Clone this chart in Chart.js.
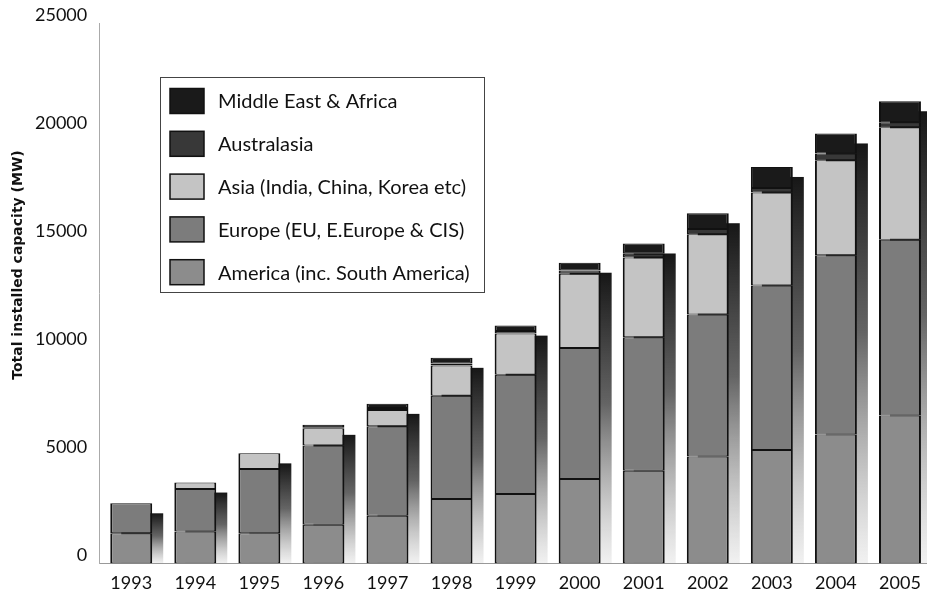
<!DOCTYPE html>
<html>
<head>
<meta charset="utf-8">
<script src="https://cdn.jsdelivr.net/npm/chart.js@4.4.1/dist/chart.umd.min.js"></script>
<style>
  html, body { margin: 0; padding: 0; background: #fff; overflow: hidden; }
  #wrap { width: 932px; height: 594px; }
</style>
</head>
<body>
<div id="wrap"><canvas id="windChart" width="932" height="594"></canvas></div>
<script>
// values (MW)
const YEARS = ['1993', '1994', '1995', '1996', '1997', '1998', '1999', '2000', '2001', '2002', '2003', '2004', '2005'];
const AMERICA = [1400, 1480, 1390, 1790, 2210, 2980, 3210, 3910, 4290, 4940, 5250, 5960, 6840];
const EUROPE = [1380, 1960, 2980, 3660, 4130, 4780, 5520, 6050, 6170, 6570, 7610, 8290, 8130];
const ASIA = [0, 300, 720, 800, 760, 1390, 1910, 3440, 3690, 3720, 4300, 4400, 5210];
const AUSTRALASIA = [0, 0, 0, 50, 90, 100, 110, 150, 180, 240, 210, 310, 230];
const MIDDLE_EAST_AFRICA = [0, 0, 0, 110, 190, 260, 250, 360, 470, 730, 970, 930, 970];
const Y_TICKS = [0, 5000, 10000, 15000, 20000, 25000];
const Y_TITLE = 'Total installed capacity (MW)';

const FONT = 'Lato, "Open Sans", sans-serif';

// shadow behind each stacked column, fading downward
const barShadow = {
  id: 'barShadow',
  beforeDatasetsDraw(chart) {
    const ctx = chart.ctx;
    const n = chart.data.labels.length;
    ctx.save();
    for (let j = 0; j < n; j++) {
      let top = Infinity, base = -Infinity, left = 0, right = 0;
      chart.data.datasets.forEach((ds, i) => {
        const el = chart.getDatasetMeta(i).data[j];
        top = Math.min(top, el.y, el.base);
        base = Math.max(base, el.base, el.y);
        left = el.x - el.width / 2;
        right = el.x + el.width / 2;
      });
      const dx = 11, dy = 10;
      const g = ctx.createLinearGradient(0, top + dy, 0, base);
      g.addColorStop(0, 'rgba(10,10,10,0.95)');
      g.addColorStop(0.45, 'rgba(40,40,40,0.72)');
      g.addColorStop(1, 'rgba(120,120,120,0.1)');
      ctx.fillStyle = g;
      ctx.fillRect(left + dx, top + dy, right - left, base - top - dy);
    }
    ctx.restore();
  }
};

// boxed legend in the upper left of the plot + rotated axis title
const boxLegend = {
  id: 'boxLegend',
  afterDraw(chart) {
    const ctx = chart.ctx;
    ctx.save();
    ctx.fillStyle = '#fff';
    ctx.fillRect(160, 77, 324, 215);
    ctx.strokeStyle = '#444';
    ctx.lineWidth = 1;
    ctx.strokeRect(160.5, 77.5, 324, 215);
    const items = chart.data.datasets.slice().reverse();
    items.forEach((d, k) => {
      const cy = 101 + k * 42.8;
      ctx.fillStyle = d.backgroundColor;
      ctx.fillRect(170, cy - 12.5, 34, 25);
      ctx.strokeStyle = '#111';
      ctx.lineWidth = 1.5;
      ctx.strokeRect(170, cy - 12.5, 34, 25);
      ctx.fillStyle = '#111';
      ctx.font = '20px ' + FONT;
      ctx.textBaseline = 'middle';
      ctx.fillText(d.label, 218, cy + 1);
    });

    ctx.translate(18, 265);
    ctx.rotate(-Math.PI / 2);
    ctx.font = 'bold 14px "DejaVu Sans", sans-serif';
    ctx.textAlign = 'center';
    ctx.textBaseline = 'middle';
    ctx.fillStyle = '#111';
    ctx.fillText(Y_TITLE, 0, 0);
    ctx.restore();
  }
};

function makeSet(label, data, color) {
  return {
    label,
    data,
    backgroundColor: color,
    borderColor: '#111',
    borderWidth: { top: 1, bottom: 1, left: 2, right: 2 },
    borderSkipped: false,
    barPercentage: 0.655,
    categoryPercentage: 1
  };
}

window.addEventListener('DOMContentLoaded', () => {
  new Chart(document.getElementById('windChart'), {
    type: 'bar',
    data: {
      labels: YEARS,
      datasets: [
        makeSet('America (inc. South America)', AMERICA, '#8c8c8c'),
        makeSet('Europe (EU, E.Europe & CIS)', EUROPE, '#7c7c7c'),
        makeSet('Asia (India, China, Korea etc)', ASIA, '#c4c4c4'),
        makeSet('Australasia', AUSTRALASIA, '#383838'),
        makeSet('Middle East & Africa', MIDDLE_EAST_AFRICA, '#1a1a1a')
      ]
    },
    options: {
      responsive: false,
      animation: false,
      devicePixelRatio: 1,
      layout: { padding: { left: 23, top: 23, right: 0, bottom: -9 } },
      plugins: {
        legend: { display: false },
        tooltip: { enabled: false }
      },
      scales: {
        x: {
          stacked: true,
          grid: { display: false, drawTicks: false },
          border: { display: true, color: '#999', dash: [2, 2], width: 1 },
          ticks: { color: '#111', padding: 9, font: { family: FONT, size: 18 } }
        },
        y: {
          stacked: true,
          min: 0,
          max: 25000,
          afterBuildTicks: (scale) => { scale.ticks = Y_TICKS.map(v => ({ value: v })); },
          grid: { display: false, drawTicks: false },
          border: { display: true, color: '#aaa', dash: [1, 3], width: 1 },
          ticks: {
            color: '#111',
            padding: 12,
            labelOffset: -8,
            font: { family: FONT, size: 18 },
            callback: (v) => String(v)
          }
        }
      }
    },
    plugins: [barShadow, boxLegend]
  });
});
</script>
</body>
</html>
